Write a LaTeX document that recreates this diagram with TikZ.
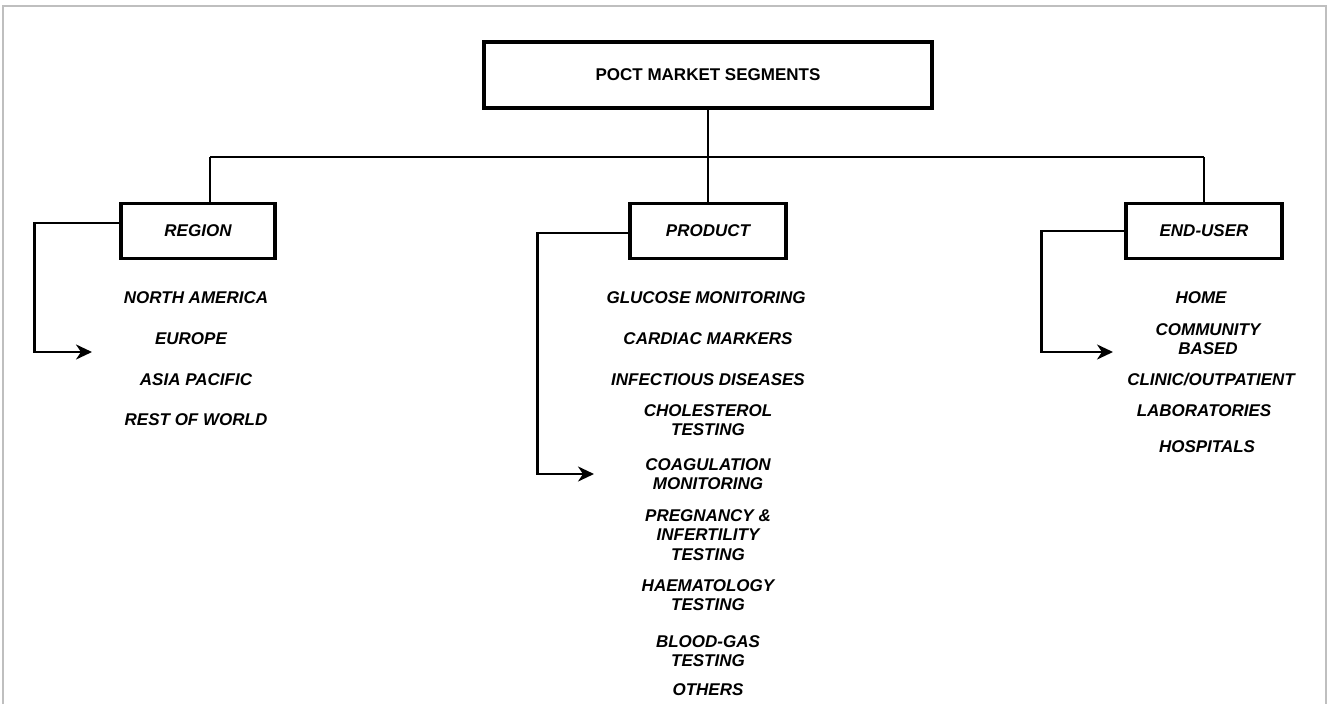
\documentclass[tikz,border=0pt]{standalone}
\usepackage{fontspec}
\setmainfont{Liberation Sans}
\usetikzlibrary{arrows.meta}
\begin{document}
\begin{tikzpicture}[>={Stealth[length=16pt,width=15pt,inset=5pt]},x=1pt,y=-1pt,
    segbox/.style={draw,line width=3.5pt,font=\fontsize{17}{20}\selectfont\bfseries\itshape},
    link/.style={line width=2.5pt},
    item/.style={align=center,font=\fontsize{17}{19.5}\selectfont\bfseries\itshape}]
            \useasboundingbox (0,0) rectangle (1327,704);
            \draw[black!25,line width=1.5pt] (3,704) -- (3,6) -- (1326,6) -- (1326,704);
            % boxes
            \node[segbox,minimum width=448,minimum height=66,font=\fontsize{17}{20}\selectfont\bfseries] (top) at (708,75) {POCT MARKET SEGMENTS};
            \node[segbox,minimum width=154,minimum height=55] (region) at (198,231) {REGION};
            \node[segbox,minimum width=156,minimum height=55] (product) at (708,231) {PRODUCT};
            \node[segbox,minimum width=156,minimum height=55] (enduser) at (1204,231) {END-USER};
            % tree lines
            \coordinate (busL) at (210,157);
            \coordinate (busR) at (1204,157);
            \draw[link] (top.south) -- (top.south |- busL);
            \draw[link] (busL) -- (busR);
            \draw[link] (busL) -- (busL |- region.north);
            \draw[link] (top.south |- busL) -- (product.north);
            \draw[link] (busR) -- (enduser.north);
            % arrows
            \coordinate (regtip) at (92,352);
            \coordinate (prodtip) at (594,474);
            \coordinate (usertip) at (1113,352);
            \draw[link,->] ([yshift=8]region.west) -- ++(-85,0) |- (regtip);
            \draw[link,->] ([yshift=-2]product.west) -- ++(-91,0) |- (prodtip);
            \draw[link,->] (enduser.west) -- ++(-83,0) |- (usertip);
            % region items
            \node[item] (na) at (196,298) {NORTH AMERICA};
            \node[item] (eu) at (191,339) {EUROPE};
            \node[item] (ap) at (196,380) {ASIA PACIFIC};
            \node[item] (rw) at (196,420) {REST OF WORLD};
            % product items
            \node[item] (glu) at (706,298) {GLUCOSE MONITORING};
            \node[item] (car) at (708,339) {CARDIAC MARKERS};
            \node[item] (inf) at (708,380) {INFECTIOUS DISEASES};
            \node[item] (cho) at (708,420) {CHOLESTEROL\\TESTING};
            \node[item] (coa) at (708,474) {COAGULATION\\MONITORING};
            \node[item] (pre) at (708,535) {PREGNANCY \&\\INFERTILITY\\TESTING};
            \node[item] (hae) at (708,595) {HAEMATOLOGY\\TESTING};
            \node[item] (blo) at (708,651) {BLOOD-GAS\\TESTING};
            \node[item] (oth) at (708,690) {OTHERS};
            % end-user items
            \node[item] (home) at (1201,298) {HOME};
            \node[item] (comm) at (1208,339) {COMMUNITY\\BASED};
            \node[item] (clin) at (1211,380) {CLINIC/OUTPATIENT};
            \node[item] (lab) at (1204,411) {LABORATORIES};
            \node[item] (hosp) at (1207,447) {HOSPITALS};
\end{tikzpicture}
\end{document}
